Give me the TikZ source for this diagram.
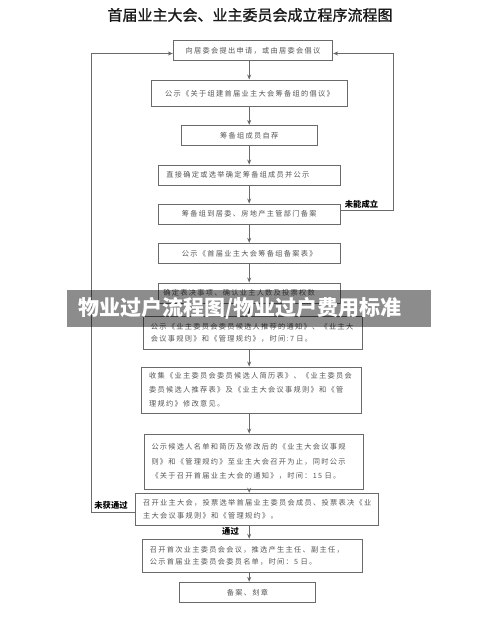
\documentclass[tikz,border=0pt]{standalone}
\usepackage{fontspec}
\setmainfont{Noto Sans CJK SC}
\newfontfamily\cjk{Noto Sans CJK SC}
\newfontfamily\titlefont[FakeBold=1.2]{Noto Sans CJK SC}
\newfontfamily\boxfont[LetterSpace=18]{Noto Sans CJK SC}
\usetikzlibrary{arrows.meta}
\definecolor{linegray}{HTML}{6A6A6A}
\definecolor{textgray}{HTML}{555555}
\begin{document}
\begin{tikzpicture}[x=1pt,y=-1pt,
  box/.style={draw=linegray, line width=0.9pt, inner sep=0pt, text=textgray,
    font=\boxfont\fontsize{7.2}{12}\selectfont},
  multibox/.style={box, align=left, inner xsep=7.5pt},
  conn/.style={draw=linegray, line width=0.9pt},
  arr/.style={conn, -{Stealth[length=5pt,width=4pt,fill=black]}},
  lbl/.style={font=\cjk\bfseries\fontsize{8.3}{10}\selectfont, text=black, inner sep=0pt}]
\useasboundingbox (0,0) rectangle (500,618);
\fill[white] (0,0) rectangle (500,618);

\node[font=\titlefont\fontsize{15}{15}\selectfont, text=black!90] (title) at (250,15)
  {首届业主大会、业主委员会成立程序流程图};

\coordinate (axis) at (249.2,0);
\coordinate (rloop) at (393.3,0);
\coordinate (lloop) at (91,0);

\node[box, minimum width=159.4pt, minimum height=20pt] (b1) at (253,50.7)
  {向居委会提出申请，或由居委会倡议};
\node[box, minimum width=196.7pt, minimum height=26.7pt] (b2) at (249.4,93.3)
  {公示《关于组建首届业主大会筹备组的倡议》};
\node[box, minimum width=136.3pt, minimum height=20pt] (b3) at (249.2,135.3)
  {筹备组成员自荐};
\node[box, minimum width=182pt, minimum height=20pt, text width=166pt, align=left, inner xsep=8pt] (b4) at (249.3,175)
  {直接确定或选举确定筹备组成员并公示};
\node[box, minimum width=182pt, minimum height=20pt] (b5) at (249.3,214)
  {筹备组到居委、房地产主管部门备案};
\node[box, minimum width=182pt, minimum height=20pt] (b6) at (249.3,253.3)
  {公示《首届业主大会筹备组备案表》};
\node[box, minimum width=182pt, minimum height=20pt, text width=172pt, align=left, inner xsep=5pt] (b7) at (249.3,293)
  {确定表决事项、确认业主人数及投票权数};
\node[multibox, minimum width=219.4pt, minimum height=33pt, text width=204.4pt] (b8) at (253,332.5)
  {公示《业主委员会委员候选人推荐的通知》、《业主大\\会议事规则》和《管理规约》，时间:7 日。};
\node[multibox, minimum width=219.3pt, minimum height=46pt, text width=204.3pt,
  font=\boxfont\fontsize{7.2}{14}\selectfont] (b9) at (251.35,390)
  {收集《业主委员会委员候选人简历表》、《业主委员会\\委员候选人推荐表》及《业主大会议事规则》和《管\\理规约》修改意见。};
\node[multibox, minimum width=219.7pt, minimum height=55pt, text width=204.7pt,
  font=\boxfont\fontsize{7.2}{14.3}\selectfont] (b10) at (253.85,461.5)
  {公示候选人名单和简历及修改后的《业主大会议事规\\则》和《管理规约》至业主大会召开为止，同时公示\\《关于召开首届业主大会的通知》，时间：15 日。};
\node[multibox, minimum width=242.6pt, minimum height=32pt, text width=227.6pt,
  font=\boxfont\fontsize{7.2}{12.7}\selectfont] (b11) at (257,509.2)
  {召开业主大会，投票选举首届业主委员会成员、投票表决《业\\主大会议事规则》和《管理规约》。};
\node[multibox, minimum width=220pt, minimum height=33pt, text width=205pt] (b12) at (252.3,555.7)
  {召开首次业主委员会会议，推选产生主任、副主任，\\公示首届业主委员会委员名单，时间：5 日。};
\node[box, minimum width=136.4pt, minimum height=20.4pt] (b13) at (247.5,592.5)
  {备案、刻章};

\foreach \a/\b in {b1/b2,b2/b3,b3/b4,b4/b5,b5/b6,b6/b7,b7/b8,b8/b9,b9/b10,b10/b11,b11/b12,b12/b13}
  \draw[arr] (\a.south -| axis) -- (\b.north -| axis);

\draw[arr] ([yshift=3.3pt]b5.east) -- ([yshift=3.3pt]b5.east -| rloop) |- ([yshift=-2.8pt]b1.east);
\draw[arr] ([yshift=-3.3pt]b11.west) -- ([yshift=-3.3pt]b11.west -| lloop) |- ([yshift=-2.8pt]b1.west);

\node[lbl] (l1) at (361.5,204.5) {未能成立};
\node[lbl] (l2) at (111,505.7) {未获通过};
\node[lbl] (l3) at (230.5,531) {通过};

\node[fill=black, fill opacity=0.45, draw=none, minimum width=364.3pt, minimum height=36.7pt, inner sep=0pt] (banner) at (248.85,308.35) {};
\node[font=\cjk\bfseries\fontsize{21}{21}\selectfont, text=white, inner sep=0pt] (bannertext) at (240,308.5)
  {物业过户流程图/物业过户费用标准};
\end{tikzpicture}
\end{document}
